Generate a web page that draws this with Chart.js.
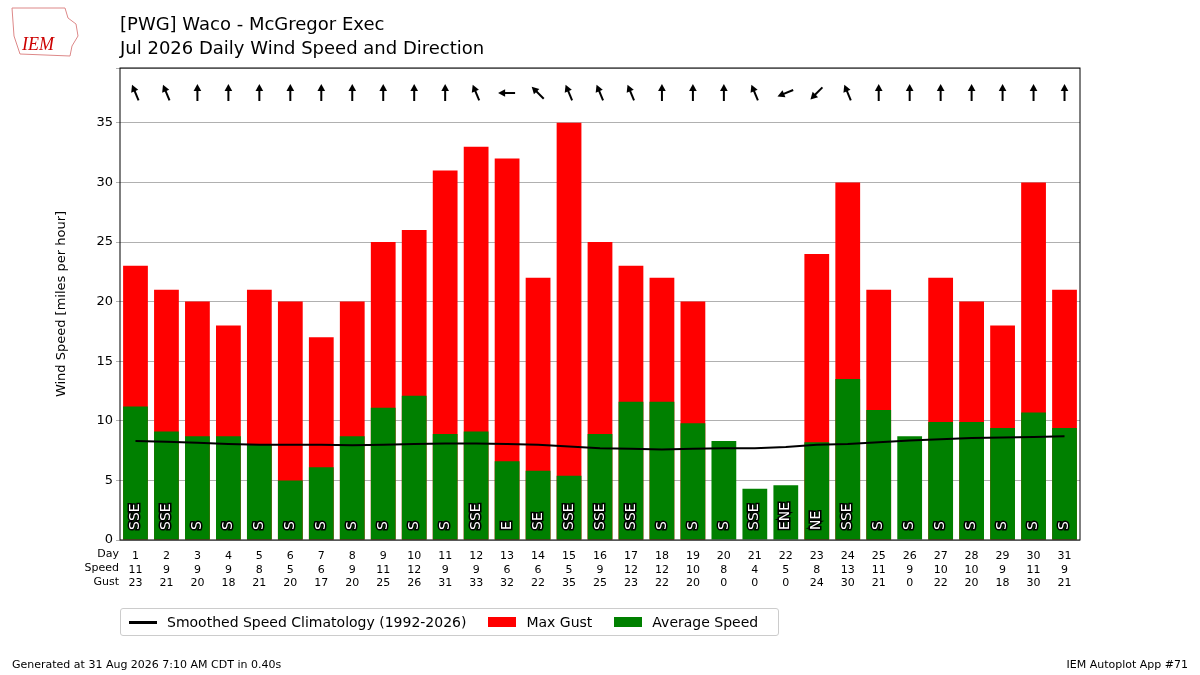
<!DOCTYPE html>
<html>
<head>
<meta charset="utf-8">
<script src="https://cdn.jsdelivr.net/npm/chart.js@4"></script>
<style>
  body { margin: 0; background: #fff; font-family: "DejaVu Sans", sans-serif; }
  #wrap { position: relative; width: 1200px; height: 675px; }
  canvas { position: absolute; left: 0; top: 0; }
  .title { position: absolute; left: 120px; font-size: 18px; color: #000; }
  .foot { position: absolute; top: 658px; font-size: 11px; }
  #legend { position: absolute; left: 120px; top: 608px; width: 657px; height: 26px; border: 1px solid #ccc; border-radius: 3px;
            font-size: 14px; display: flex; align-items: center; white-space: nowrap; }
  .li { display: flex; align-items: center; margin-left: 4px; margin-right: 18px; flex-shrink: 0; }
  .sw { width: 28px; height: 10px; margin-right: 10px; flex-shrink: 0; }
  #logo { position: absolute; left: 10px; top: 6px; font-size: 18px; color: #c00; font-style: italic; font-family: "Liberation Serif", serif; }
</style>
</head>
<body>
<div id="wrap">
  <canvas id="c" width="1200" height="675"></canvas>
  <div id="logo"><svg width="70" height="52" style="position:absolute;left:0;top:0"><path d="M2 2 L55 2 L58 12 L66 18 L68 30 L62 40 L60 50 L10 48 L4 30 Z" fill="none" stroke="#d88" stroke-width="1"/></svg><span style="position:absolute;left:12px;top:28px">IEM</span></div>
  <div class="title" style="top:13px">[PWG] Waco - McGregor Exec</div>
  <div class="title" style="top:37px">Jul 2026 Daily Wind Speed and Direction</div>
  <div id="legend">
    <div class="li" style="margin-left:8px"><div class="sw" style="height:3px;background:#000"></div>Smoothed Speed Climatology (1992-2026)</div>
    <div class="li"><div class="sw" style="background:#f00"></div>Max Gust</div>
    <div class="li"><div class="sw" style="background:#008000"></div>Average Speed</div>
  </div>
  <div class="foot" style="left:12px">Generated at 31 Aug 2026 7:10 AM CDT in 0.40s</div>
  <div class="foot" style="right:12px">IEM Autoplot App #71</div>
</div>
<script>
const days = [1,2,3,4,5,6,7,8,9,10,11,12,13,14,15,16,17,18,19,20,21,22,23,24,25,26,27,28,29,30,31];
const speedLabel = [11,9,9,9,8,5,6,9,11,12,9,9,6,6,5,9,12,12,10,8,4,5,8,13,11,9,10,10,9,11,9];
const avgSpeed = [11.2,9.1,8.7,8.7,8.0,5.0,6.1,8.7,11.1,12.1,8.9,9.1,6.6,5.8,5.4,8.9,11.6,11.6,9.8,8.3,4.3,4.6,8.2,13.5,10.9,8.7,9.9,9.9,9.4,10.7,9.4];
const maxGust = [23,21,20,18,21,20,17,20,25,26,31,33,32,22,35,25,23,22,20,0,0,0,24,30,21,0,22,20,18,30,21];
const dirs = ['SSE','SSE','S','S','S','S','S','S','S','S','S','SSE','E','SE','SSE','SSE','SSE','S','S','S','SSE','ENE','NE','SSE','S','S','S','S','S','S','S'];
const climo = [8.3,8.25,8.15,8.05,8.0,8.0,8.0,7.95,8.0,8.05,8.1,8.1,8.05,8.0,7.85,7.7,7.65,7.6,7.65,7.7,7.7,7.8,8.0,8.05,8.2,8.35,8.45,8.55,8.6,8.65,8.7];

const compass = {N:0,NNE:22.5,NE:45,ENE:67.5,E:90,ESE:112.5,SE:135,SSE:157.5,S:180,SSW:202.5,SW:225,WSW:247.5,W:270};

const overlay = {
  id: 'overlay',
  afterDatasetsDraw(chart) {
    const {ctx, scales: {x, y}, chartArea} = chart;
    ctx.save();
    // direction labels inside bars
    ctx.font = '14px "DejaVu Sans"';
    ctx.textAlign = 'center';
    ctx.textBaseline = 'middle';
    dirs.forEach((d, i) => {
      const px = x.getPixelForValue(i);
      const py = y.getPixelForValue(0) - 10 - ctx.measureText(d).width / 2;
      ctx.save();
      ctx.translate(px, py);
      ctx.rotate(-Math.PI / 2);
      ctx.lineWidth = 3; ctx.strokeStyle = '#000';
      ctx.strokeText(d, 0, 0);
      ctx.fillStyle = '#fff';
      ctx.fillText(d, 0, 0);
      ctx.restore();
    });
    // wind arrows at top
    ctx.strokeStyle = '#000'; ctx.fillStyle = '#000'; ctx.lineWidth = 2;
    dirs.forEach((d, i) => {
      const px = x.getPixelForValue(i);
      const py = y.getPixelForValue(37.5);
      const a = (compass[d] + 180) * Math.PI / 180;
      const dx = Math.sin(a), dy = -Math.cos(a);
      const L = 8;
      const x0 = px - dx * L, y0 = py - dy * L, x1 = px + dx * (L - 3), y1 = py + dy * (L - 3);
      ctx.beginPath(); ctx.moveTo(x0, y0); ctx.lineTo(x1, y1); ctx.stroke();
      const tx = px + dx * (L + 1), ty = py + dy * (L + 1);
      const h = 8, w = 0.5;
      ctx.beginPath();
      ctx.moveTo(tx, ty);
      ctx.lineTo(tx - h * (dx * Math.cos(w) - dy * Math.sin(w)), ty - h * (dy * Math.cos(w) + dx * Math.sin(w)));
      ctx.lineTo(tx - h * (dx * Math.cos(w) + dy * Math.sin(w)), ty - h * (dy * Math.cos(w) - dx * Math.sin(w)));
      ctx.closePath(); ctx.fill();
    });
    // table row titles
    ctx.font = '11px "DejaVu Sans"';
    ctx.fillStyle = '#000';
    ctx.textAlign = 'right';
    ctx.textBaseline = 'top';
    ['Day', 'Speed', 'Gust'].forEach((t, k) => ctx.fillText(t, chartArea.left - 1, chartArea.bottom + 9 + k * 14));
    // frame
    ctx.strokeStyle = '#000'; ctx.lineWidth = 1;
    ctx.strokeRect(chartArea.left, chartArea.top, chartArea.right - chartArea.left, chartArea.bottom - chartArea.top);
    ctx.restore();
  }
};

new Chart(document.getElementById('c'), {
  type: 'bar',
  data: {
    labels: days.map((d, i) => [String(d), String(speedLabel[i]), String(maxGust[i])]),
    datasets: [
      { type: 'line', label: 'Smoothed Speed Climatology (1992-2026)', data: climo, borderColor: '#000', borderWidth: 2, pointRadius: 0, order: 0 },
      { label: 'Average Speed', data: avgSpeed, backgroundColor: '#008000', grouped: false, barPercentage: 0.8, categoryPercentage: 1, order: 1 },
      { label: 'Max Gust', data: maxGust, backgroundColor: '#ff0000', grouped: false, barPercentage: 0.8, categoryPercentage: 1, order: 2 }
    ]
  },
  options: {
    responsive: false,
    animation: false,
    layout: { padding: { left: 50, right: 120, top: 68, bottom: 80 } },
    plugins: { legend: { display: false }, tooltip: { enabled: false } },
    scales: {
      x: {
        grid: { display: false },
        border: { display: false },
        ticks: { color: '#000', font: { family: 'DejaVu Sans', size: 11 }, maxRotation: 0, autoSkip: false, padding: 2 },
        afterFit(s) { s.height = 55; }
      },
      y: {
        min: 0, max: 39.6,
        grid: { color: '#b0b0b0', drawTicks: true, tickLength: 4 },
        border: { display: false },
        ticks: { stepSize: 5, color: '#000', font: { family: 'DejaVu Sans', size: 13 }, callback: v => v <= 35 ? v : '' },
        title: { display: true, text: 'Wind Speed [miles per hour]', color: '#000', font: { family: 'DejaVu Sans', size: 13 } },
        afterFit(s) { s.width = 70; }
      }
    }
  },
  plugins: [overlay]
});
</script>
</body>
</html>
